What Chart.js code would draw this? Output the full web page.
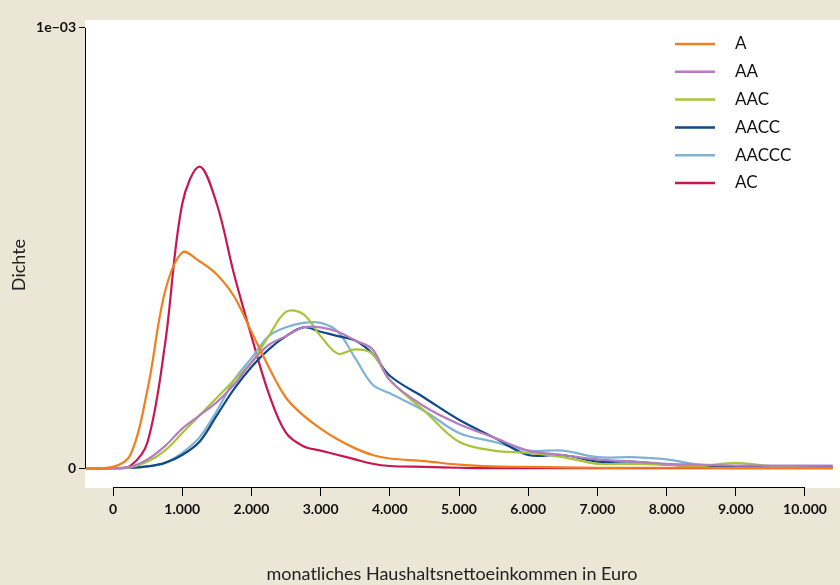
<!DOCTYPE html>
<html><head><meta charset="utf-8">
<script src="https://cdn.jsdelivr.net/npm/chart.js@4"></script>
<style>body{margin:0;background:#ece6d6}#c{display:block}</style>
</head><body>
<canvas id="c" width="840" height="585"></canvas>
<script>
// density values in units of 1e-03
const xs = [-400,0,250,500,750,1000,1250,1500,1750,2000,2250,2500,2750,3000,3250,3500,3750,4000,4500,5000,5500,6000,6500,7000,7500,8000,8500,9000,9500,10000,10400];
const names = ['A','AA','AAC','AACC','AACCC','AC'];
const colors = ['#f07f1e','#b57cc0','#a8c43a','#0d4a87','#7fb2d3','#c8174f'];
const serA     = [0,0.003,0.03,0.18,0.40,0.49,0.47,0.44,0.39,0.31,0.23,0.16,0.12,0.09,0.065,0.045,0.03,0.022,0.016,0.008,0.004,0.003,0.002,0.001,0.001,0.001,0.001,0,0,0,0];
const serAA    = [0,0,0.003,0.02,0.05,0.09,0.12,0.15,0.19,0.24,0.28,0.30,0.32,0.32,0.31,0.29,0.27,0.20,0.14,0.10,0.07,0.04,0.03,0.02,0.015,0.01,0.008,0.006,0.006,0.006,0.006];
const serAAC   = [0,0,0.002,0.015,0.04,0.08,0.12,0.16,0.20,0.24,0.30,0.355,0.35,0.30,0.26,0.27,0.26,0.20,0.13,0.06,0.04,0.035,0.025,0.01,0.01,0.008,0.005,0.012,0.005,0.002,0];
const serAACC  = [0,0,0.001,0.004,0.012,0.03,0.06,0.12,0.18,0.23,0.27,0.30,0.32,0.31,0.30,0.29,0.26,0.21,0.16,0.11,0.07,0.03,0.03,0.015,0.015,0.008,0.005,0.004,0.004,0.003,0.003];
const serAACCC = [0,0,0.001,0.004,0.012,0.035,0.07,0.13,0.20,0.25,0.30,0.32,0.33,0.33,0.31,0.25,0.19,0.17,0.13,0.08,0.06,0.04,0.04,0.025,0.025,0.02,0.007,0.005,0.003,0.002,0.002];
const serAC    = [0,0,0.005,0.06,0.28,0.60,0.685,0.60,0.44,0.30,0.17,0.08,0.05,0.04,0.03,0.02,0.01,0.005,0.003,0.001,0,0,0,0,0,0,0,0,0,0,0];
const series = [serA,serAA,serAAC,serAACC,serAACCC,serAC];
const xTicks = [0,1000,2000,3000,4000,5000,6000,7000,8000,9000,10000];
const yTicks = [0,1];

const font = 'Lato';
const deco = {
  id:'deco',
  beforeDraw(ch){
    const {ctx,chartArea:a} = ch;
    ctx.save(); ctx.fillStyle='#fff'; ctx.fillRect(a.left,a.top,a.right-a.left,a.bottom-a.top); ctx.restore();
  },
  afterDraw(ch){
    const {ctx,scales:{x,y}} = ch;
    ctx.save();
    ctx.strokeStyle='#000'; ctx.lineWidth=1;
    ctx.beginPath();
    ctx.moveTo(x.getPixelForValue(0),ch.chartArea.bottom-0.5); ctx.lineTo(x.getPixelForValue(10000),ch.chartArea.bottom-0.5);
    ctx.moveTo(ch.chartArea.left+0.5,y.getPixelForValue(0)); ctx.lineTo(ch.chartArea.left+0.5,y.getPixelForValue(1));
    ctx.stroke();
    ctx.fillStyle='#222'; ctx.font='18px '+font; ctx.textAlign='center';
    ctx.fillText('monatliches Haushaltsnettoeinkommen in Euro',452,580);
    ctx.translate(19,265); ctx.rotate(-Math.PI/2); ctx.fillText('Dichte',0,6);
    ctx.restore();
    ctx.save(); ctx.font='17px '+font; ctx.textBaseline='middle';
    names.forEach((n,i)=>{
      const yy=44+i*27.8;
      ctx.strokeStyle=colors[i]; ctx.lineWidth=2.5;
      ctx.beginPath(); ctx.moveTo(675,yy); ctx.lineTo(715,yy); ctx.stroke();
      ctx.fillStyle='#111'; ctx.fillText(n,735,yy);
    });
    ctx.restore();
  }
};

new Chart(document.getElementById('c'), {
  type:'line',
  data:{ datasets: names.map((n,i)=>({ label:n, data: xs.map((v,j)=>({x:v,y:series[i][j]})), borderColor:colors[i], borderWidth:2.2, pointRadius:0, tension:0.35, fill:false })) },
  options:{
    responsive:false, animation:false,
    layout:{padding:{top:20,right:0,left:0,bottom:0}},
    plugins:{legend:{display:false},tooltip:{enabled:false}},
    scales:{
      x:{ type:'linear', min:-405, max:10506,
        afterBuildTicks(s){ s.ticks = xTicks.map(v=>({value:v})); },
        afterFit(s){ s.height=97; },
        grid:{display:true,drawOnChartArea:false,color:'#000',tickLength:8},
        border:{display:false},
        ticks:{color:'#111',font:{family:font,size:14,weight:'bold'},padding:5,maxRotation:0,autoSkip:false,
          callback:v=>v.toLocaleString('de-DE')} },
      y:{ min:-0.045, max:1.018,
        afterBuildTicks(s){ s.ticks = yTicks.map(v=>({value:v})); },
        afterFit(s){ s.width=85; },
        grid:{display:true,drawOnChartArea:false,color:'#000',tickLength:6},
        border:{display:false},
        ticks:{color:'#111',font:{family:font,size:14,weight:'bold'},padding:3,
          callback:v=>v===0?'0':'1e\u221203'} }
    }
  },
  plugins:[deco]
});
</script>
</body></html>
